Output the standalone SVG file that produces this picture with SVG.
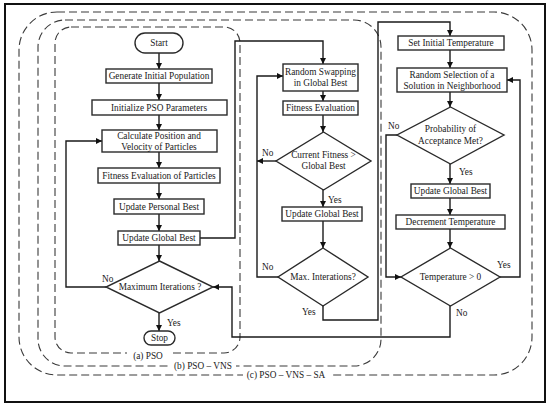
<svg xmlns="http://www.w3.org/2000/svg" width="550" height="406" viewBox="0 0 550 406">
<style>
.box{fill:#fff;stroke:#2a2a2a;stroke-width:1.4}
.dash{fill:none;stroke:#3a3a3a;stroke-width:1.1;stroke-dasharray:8 4}
.ln{fill:none;stroke:#1a1a1a;stroke-width:1.4}
.t{font-family:"Liberation Serif","Times New Roman",serif;font-size:9.3px;fill:#1a1a1a;text-anchor:middle;dominant-baseline:central}
.lb{font-family:"Liberation Serif","Times New Roman",serif;font-size:9.3px;fill:#1a1a1a;dominant-baseline:central}
</style>
<defs>
<marker id="ah" viewBox="0 0 10 10" refX="10" refY="5" markerWidth="6" markerHeight="6" markerUnits="userSpaceOnUse" orient="auto">
<path d="M0,0 L10,5 L0,10 z" fill="#111"/>
</marker>
</defs>
<rect x="0" y="0" width="550" height="406" fill="#fff"/>
<rect x="5" y="4" width="540" height="398" fill="none" stroke="#111" stroke-width="2"/>

<g id="groups">
<rect class="dash" x="19" y="12" width="513" height="363" rx="38"/>
<rect class="dash" x="38" y="20" width="343" height="346" rx="27"/>
<rect class="dash" x="55" y="27" width="185" height="326" rx="16"/>
<rect x="127" y="350" width="43" height="12" fill="#fff"/>
<text class="t" x="148" y="356">(a) PSO</text>
<rect x="170" y="360" width="66" height="12" fill="#fff"/>
<text class="t" x="203" y="366">(b) PSO – VNS</text>
<rect x="243" y="369" width="87" height="12" fill="#fff"/>
<text class="t" x="286" y="375">(c) PSO – VNS – SA</text>
</g>

<g id="connectors">
<path class="ln" d="M159,53 V69" marker-end="url(#ah)"/>
<path class="ln" d="M159,83 V100" marker-end="url(#ah)"/>
<path class="ln" d="M159,115 V130" marker-end="url(#ah)"/>
<path class="ln" d="M159,152 V168" marker-end="url(#ah)"/>
<path class="ln" d="M159,183 V199" marker-end="url(#ah)"/>
<path class="ln" d="M159,214 V231" marker-end="url(#ah)"/>
<path class="ln" d="M159,245 V261" marker-end="url(#ah)"/>
<path class="ln" d="M159,313 V331" marker-end="url(#ah)"/>
<path class="ln" d="M106,287 H66 V141 H102" marker-end="url(#ah)"/>
<path class="ln" d="M200,238 H235 V41 H323 V64" marker-end="url(#ah)"/>
<path class="ln" d="M323,91 V101" marker-end="url(#ah)"/>
<path class="ln" d="M323,115 V132" marker-end="url(#ah)"/>
<path class="ln" d="M323,190 V207" marker-end="url(#ah)"/>
<path class="ln" d="M323,221 V248" marker-end="url(#ah)"/>
<path class="ln" d="M276,161 H257" marker-end="url(#ah)"/>
<path class="ln" d="M278,277 H257 V76 H283" marker-end="url(#ah)"/>
<path class="ln" d="M323,306 V320 H378 V22 H450 V36" marker-end="url(#ah)"/>
<path class="ln" d="M450,50 V68" marker-end="url(#ah)"/>
<path class="ln" d="M450,92 V107" marker-end="url(#ah)"/>
<path class="ln" d="M450,164 V184" marker-end="url(#ah)"/>
<path class="ln" d="M450,198 V215" marker-end="url(#ah)"/>
<path class="ln" d="M450,229 V248" marker-end="url(#ah)"/>
<path class="ln" d="M397,135 H386 V277 H401" marker-end="url(#ah)"/>
<path class="ln" d="M500,277 H520 V80 H507" marker-end="url(#ah)"/>
<path class="ln" d="M450,306 V337 H232 V287 H213" marker-end="url(#ah)"/>
<text class="lb" x="102" y="279">No</text>
<text class="lb" x="167" y="323">Yes</text>
<text class="lb" x="262" y="153">No</text>
<text class="lb" x="328" y="200">Yes</text>
<text class="lb" x="262" y="267">No</text>
<text class="lb" x="302" y="312">Yes</text>
<text class="lb" x="388" y="126">No</text>
<text class="lb" x="459" y="172">Yes</text>
<text class="lb" x="497" y="265">Yes</text>
<text class="lb" x="456" y="313">No</text>
</g>

<g id="start"><rect class="box" x="135" y="33" width="48" height="20" rx="10"/><text class="t" x="159" y="43">Start</text></g>
<g id="gen"><rect class="box" x="106" y="69" width="106" height="14"/><text class="t" x="159" y="76">Generate Initial Population</text></g>
<g id="init"><rect class="box" x="92" y="100" width="135" height="15"/><text class="t" x="159" y="107.5">Initialize PSO Parameters</text></g>
<g id="calc"><rect class="box" x="102" y="130" width="115" height="22"/><text class="t" x="159" y="136">Calculate Position and</text><text class="t" x="159" y="146.5">Velocity of Particles</text></g>
<g id="fitp"><rect class="box" x="98" y="168" width="122" height="15"/><text class="t" x="159" y="175.5">Fitness Evaluation of Particles</text></g>
<g id="upb"><rect class="box" x="114" y="199" width="90" height="15"/><text class="t" x="159" y="206.5">Update Personal Best</text></g>
<g id="ugb1"><rect class="box" x="118" y="231" width="82" height="14"/><text class="t" x="159" y="238">Update Global Best</text></g>
<g id="maxit"><polygon class="box" points="159.5,261 213,287 159.5,313 106,287"/><text class="t" x="160" y="287">Maximum Iterations ?</text></g>
<g id="stop"><rect class="box" x="144" y="331" width="31" height="14" rx="7"/><text class="t" x="159.5" y="338">Stop</text></g>

<g id="swap"><rect class="box" x="283" y="64" width="75" height="27"/><text class="t" x="320.5" y="71.5">Random Swapping</text><text class="t" x="320.5" y="83">in Global Best</text></g>
<g id="fite"><rect class="box" x="283" y="101" width="75" height="14"/><text class="t" x="320.5" y="108">Fitness Evaluation</text></g>
<g id="curfit"><polygon class="box" points="323.5,132 371,161 323.5,190 276,161"/><text class="t" x="323.5" y="155">Current Fitness &gt;</text><text class="t" x="323.5" y="166">Global Best</text></g>
<g id="ugb2"><rect class="box" x="282" y="207" width="80" height="14"/><text class="t" x="322" y="214">Update Global Best</text></g>
<g id="maxint"><polygon class="box" points="323,248 368,277 323,306 278,277"/><text class="t" x="323" y="277">Max. Interations?</text></g>

<g id="sit"><rect class="box" x="398" y="36" width="106" height="14"/><text class="t" x="451" y="43">Set Initial Temperature</text></g>
<g id="rsel"><rect class="box" x="397" y="68" width="110" height="24"/><text class="t" x="452" y="74.5">Random Selection of a</text><text class="t" x="452" y="85.5">Solution in Neighborhood</text></g>
<g id="prob"><polygon class="box" points="450.5,107 504,135 450.5,164 397,135"/><text class="t" x="450.5" y="129">Probability of</text><text class="t" x="450.5" y="140.5">Acceptance Met?</text></g>
<g id="ugb3"><rect class="box" x="411" y="184" width="79" height="14"/><text class="t" x="450.5" y="191">Update Global Best</text></g>
<g id="dec"><rect class="box" x="396" y="215" width="109" height="14"/><text class="t" x="450.5" y="222">Decrement Temperature</text></g>
<g id="temp"><polygon class="box" points="450.5,248 500,277 450.5,306 401,277"/><text class="t" x="450.5" y="277">Temperature &gt; 0</text></g>
</svg>
